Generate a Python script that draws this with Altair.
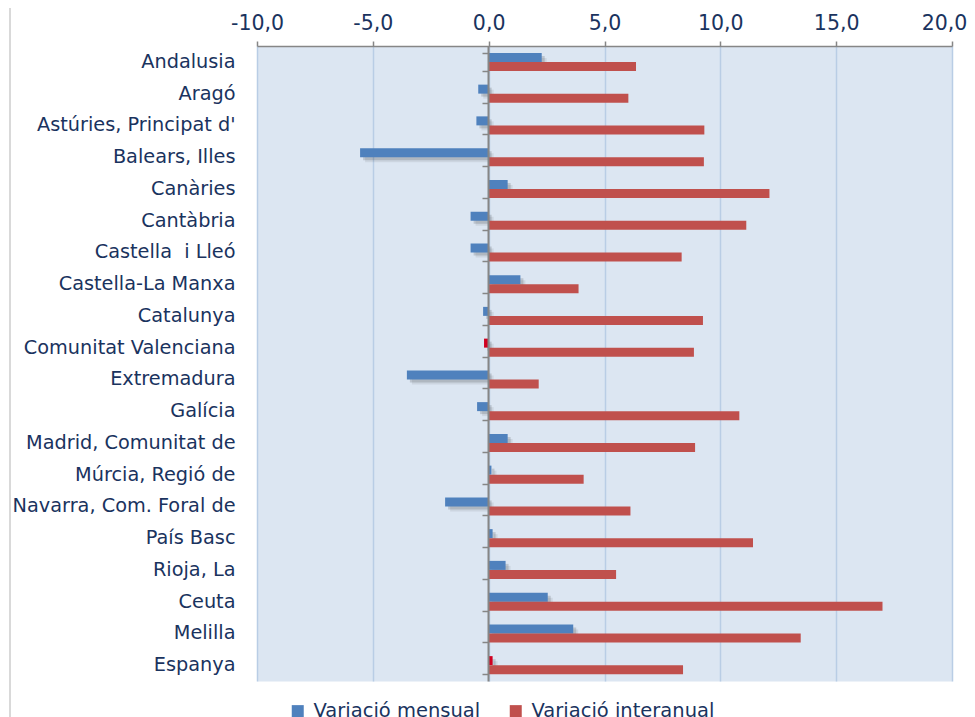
import altair as alt
import pandas as pd

regions = ["Andalusia", "Aragó", "Astúries, Principat d'", "Balears, Illes", "Canàries",
           "Cantàbria", "Castella\u00a0 i Lleó", "Castella-La Manxa", "Catalunya",
           "Comunitat Valenciana", "Extremadura", "Galícia", "Madrid, Comunitat de\u00a0",
           "Múrcia, Regió de", "Navarra, Com. Foral de", "País Basc", "Rioja, La",
           "Ceuta", "Melilla", "Espanya"]
mensual = [2.29, -0.45, -0.53, -5.55, 0.82, -0.78, -0.78, 1.37, -0.24, -0.2,
           -3.53, -0.5, 0.82, 0.12, -1.88, 0.17, 0.73, 2.55, 3.65, 0.17]
interanual = [6.36, 6.03, 9.31, 9.29, 12.12, 11.12, 8.33, 3.88, 9.25, 8.86,
              2.16, 10.82, 8.91, 4.10, 6.12, 11.41, 5.50, 17.0, 13.47, 8.39]
destacats = ["Comunitat Valenciana", "Espanya"]
series = ["Variació mensual", "Variació interanual"]
x_ticks = [-10, -5, 0, 5, 10, 15, 20]

df_m = pd.DataFrame({"regio": regions, "valor": mensual,
                     "color": ["destacat" if r in destacats else series[0] for r in regions]})
df_i = pd.DataFrame({"regio": regions, "valor": interanual, "color": series[1]})

FONT = "DejaVu Sans"
TXT = "#1a335e"
GRAY = "#868686"

yscale = alt.Scale(domain=regions, paddingInner=0.433, paddingOuter=0.2165)
xscale = alt.Scale(domain=[-10, 20], nice=False, zero=False)

x_enc = alt.X("valor:Q", title=None, scale=xscale,
              axis=alt.Axis(orient="top", values=x_ticks,
                            labelExpr="replace(replace(format(datum.value, '.1f'), '.', ','), '\u2212', '-')",
                            grid=True, gridColor="#b9cde5", gridWidth=1.5,
                            domainColor=GRAY, domainWidth=1.5, tickColor=GRAY, tickWidth=1.5,
                            tickSize=5, labelFont=FONT, labelFontSize=20.5, labelColor=TXT,
                            labelPadding=8, labelFlush=False, labelOverlap=False,
                            labelOffset={"condition": {"test": "datum.value == 20", "value": -8},
                                         "value": 0}))
y_enc = alt.Y("regio:N", title=None, sort=regions, scale=yscale,
              axis=alt.Axis(orient="left", ticks=False, domain=False, labelFont=FONT,
                            labelFontSize=19.3, labelColor=TXT, labelPadding=22,
                            labelLimit=400, grid=False))
color_enc = alt.Color("color:N",
                      scale=alt.Scale(domain=series + ["destacat"],
                                      range=["#4f81bd", "#c0504d", "#d00020"]),
                      legend=alt.Legend(orient="none", legendX=31, legendY=655, direction="horizontal",
                                        values=series, title=None, symbolType="square", symbolSize=144,
                                        symbolStrokeWidth=0, labelFont=FONT, labelFontSize=19.5,
                                        labelColor=TXT, columnPadding=25, labelOffset=6, padding=0,
                                        labelLimit=400))

shadow1 = alt.Chart(df_m).mark_bar(height=9, yOffset=0.5, xOffset=5, x2Offset=5,
                                   color="#000000", opacity=0.07).encode(x=x_enc, y=y_enc)
shadow2 = alt.Chart(df_m).mark_bar(height=9, yOffset=-1.5, xOffset=3, x2Offset=3,
                                   color="#000000", opacity=0.14).encode(x=x_enc, y=y_enc)
bars_m = alt.Chart(df_m).mark_bar(height=9, yOffset=-4.5).encode(x=x_enc, y=y_enc, color=color_enc)
bars_i = alt.Chart(df_i).mark_bar(height=9, yOffset=4.5).encode(x=x_enc, y=y_enc, color=color_enc)

bars = alt.layer(shadow1, shadow2, bars_m, bars_i)

zero_axis = alt.Chart(df_m).mark_tick(opacity=0).encode(
    y=alt.Y("regio:N", title=None, sort=regions, scale=yscale,
            axis=alt.Axis(orient="left", offset=-231, labels=False, ticks=True, tickBand="extent",
                          tickSize=6, tickColor=GRAY, tickWidth=1.5, domainColor=GRAY,
                          domainWidth=2, grid=False, zindex=1)),
)

border = alt.Chart(df_m).mark_rule(color="#d9d9d9", strokeWidth=1.5).encode(
    x=alt.value(-247), y=alt.value(-38), y2=alt.value(671)
)

chart = alt.layer(border, bars, zero_axis).resolve_axis(
    y="independent"
).properties(
    width=695, height=635,
    autosize=alt.AutoSizeParams(type="none"),
    padding={"left": 249, "top": 38, "right": 15, "bottom": 36},
).configure_view(fill="#dce6f2", stroke="transparent")

chart.save("out.html", embed_options={"renderer": "svg", "actions": False})
